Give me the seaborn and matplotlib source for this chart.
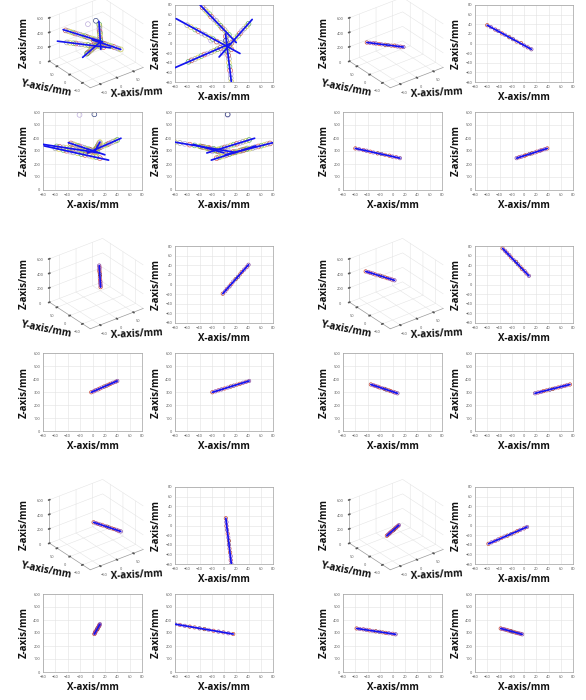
import numpy as np
import matplotlib
matplotlib.use("Agg")
import matplotlib.pyplot as plt
import seaborn as sns
from mpl_toolkits.mplot3d import Axes3D  # noqa

# ---------------- data (mm) ----------------
# trajectory B
b_x = [-60, -54, -47, -42, -36, -31, -24, -18, -12, -5, 0, 6, 12]
b_y = [38, 34, 29, 26, 21, 18, 13, 9, 4, 1, -4, -8, -12]
b_z = [320, 314, 307, 302, 295, 289, 282, 277, 270, 264, 257, 252, 245]
b_fit_x = [-60, 12]
b_fit_y = [38, -12]
b_fit_z = [320, 245]
# trajectory C
c_x = [-2, 2, 5, 9, 12, 15, 19, 23, 26, 29, 33, 37, 40]
c_y = [-19, -14, -9, -4, 1, 6, 11, 16, 21, 26, 31, 36, 41]
c_z = [298, 305, 313, 320, 327, 334, 342, 349, 356, 363, 371, 378, 385]
c_fit_x = [-2, 40]
c_fit_y = [-19, 41]
c_fit_z = [298, 385]
# trajectory D
d_x = [-35, -31, -28, -24, -21, -17, -13, -10, -6, -3, 1, 4, 8]
d_y = [75, 70, 66, 61, 56, 51, 47, 42, 37, 32, 28, 23, 18]
d_z = [358, 352, 347, 341, 335, 330, 324, 318, 313, 307, 301, 296, 290]
d_fit_x = [-35, 8]
d_fit_y = [75, 18]
d_fit_z = [358, 290]
# trajectory E
e_x = [3, 4, 4, 5, 6, 7, 8, 8, 9, 10, 11, 11, 12]
e_y = [15, 7, -1, -9, -17, -25, -32, -40, -48, -56, -64, -72, -80]
e_z = [292, 298, 305, 311, 317, 324, 330, 336, 343, 349, 355, 362, 368]
e_fit_x = [3, 12]
e_fit_y = [15, -80]
e_fit_z = [292, 368]
# trajectory F
f_x = [-58, -53, -47, -42, -37, -32, -27, -21, -16, -11, -6, 0, 5]
f_y = [-38, -35, -32, -29, -26, -23, -21, -18, -15, -12, -9, -6, -3]
f_z = [335, 331, 328, 324, 320, 316, 313, 309, 305, 301, 298, 294, 290]
f_fit_x = [-58, 5]
f_fit_y = [-38, -3]
f_fit_z = [335, 290]
# panel A: all trajectories, longer fitted lines, plus two outliers
a_fit_x = [[-78, 26], [-8, 46], [-39, 20], [2.5, 12], [-80, 10]]
a_fit_y = [[51.5, -20.7], [-28, 50], [80, 2], [20, -80], [-50.2, -0.2]]
a_fit_z = [[339, 230], [285, 398], [364, 271], [288, 368], [351, 286]]
a_out_x = [-21, 3]
a_out_y = [6, 6]
a_out_z = [578, 582]

xy_ticks = [-80, -60, -40, -20, 0, 20, 40, 60, 80]
z_ticks = [0, 100, 200, 300, 400, 500, 600]
z3_ticks = [0, 200, 400, 600]
xy3_ticks = [-50, 0, 50]

# ---------------- style ----------------
sns.set_theme(style="whitegrid")
plt.rcParams["font.family"] = ["Open Sans", "DejaVu Sans"]

W, H = 586, 700
fig = plt.figure(figsize=(W / 100, H / 100), dpi=100)
fig.patch.set_facecolor("white")

LINE_C = "#1414f0"
small_cols = ["#c0392b", "#8e44ad", "#b03a6e", "#7d3c98", "#e74c3c",
              "#a569bd", "#922b21", "#6c3483", "#cd6155"]
big_cols = ["#a6a6a6", "#e3d44c", "#6abf69", "#d9534f", "#b39ddb",
            "#9e9e9e", "#c9c94f", "#58a45c", "#c0504d"]
outlier_cols = ["#b7a6d9", "#2a3a7a"]
LBL = dict(fontsize=7.0, fontweight="bold", color="#111111")


def rect(x0, y0, x1, y1):
    return [x0 / W, 1 - y1 / H, (x1 - x0) / W, (y1 - y0) / H]


def style2d(ax, ylim, yticks):
    ax.set_facecolor("white")
    ax.set_xlim(-80, 80)
    ax.set_ylim(*ylim)
    ax.set_xticks(xy_ticks)
    ax.set_yticks(yticks)
    ax.grid(True, color="#e2e2e2", linewidth=0.4)
    for s in ax.spines.values():
        s.set_color("#a0a0a0")
        s.set_linewidth(0.5)
    ax.tick_params(labelsize=2.8, colors="#555555", length=1, width=0.3, pad=1)
    ax.set_xlabel("X-axis/mm", labelpad=2.5, **LBL)
    ax.set_ylabel("Z-axis/mm", labelpad=2.5, **LBL)


def draw2d(ax, px, py, cols, size, fits):
    sns.scatterplot(x=px, y=py, ax=ax, s=size, legend=False, zorder=2)
    coll = ax.collections[-1]
    coll.set_facecolor("none")
    coll.set_edgecolor(cols)
    coll.set_linewidth(0.45)
    for fx, fy in fits:
        sns.lineplot(x=fx, y=fy, ax=ax, sort=False, estimator=None,
                     color=LINE_C, linewidth=1.25, zorder=3)


def draw_group(gx, gy, px, py, pz, fits3, cols, size):
    # 3D view
    ax3 = fig.add_axes(rect(gx + 22, gy - 8, gx + 168, gy + 96), projection="3d")
    ax3.set_proj_type("ortho")
    ax3.view_init(elev=30, azim=-127.5)
    ax3.set_box_aspect((1, 1, 0.75), zoom=1.0)
    ax3.set_facecolor("none")
    for axis in (ax3.xaxis, ax3.yaxis, ax3.zaxis):
        axis.set_pane_color((1, 1, 1, 0))
        axis.pane.set_edgecolor("#cfcfcf")
        axis._axinfo["grid"].update(color="#e2e2e2", linewidth=0.35)
        axis.line.set_color("#9a9a9a")
        axis.line.set_linewidth(0.5)
    ax3.scatter(px, py, pz, s=size, facecolors="none", edgecolors=cols,
                linewidths=0.45, depthshade=False)
    for fx, fy, fz in fits3:
        ax3.plot(fx, fy, fz, color=LINE_C, linewidth=1.2)
    ax3.set_xlim(-80, 80)
    ax3.set_ylim(-80, 80)
    ax3.set_zlim(0, 600)
    ax3.set_xticks(xy3_ticks)
    ax3.set_yticks(xy3_ticks)
    ax3.set_zticks(z3_ticks)
    ax3.tick_params(labelsize=2.8, colors="#555555", pad=-4)
    ax3.set_xlabel("")
    ax3.set_ylabel("")
    ax3.set_zlabel("")
    fig.text((gx + 24) / W, 1 - (gy + 42) / H, "Z-axis/mm", rotation=90,
             ha="center", va="center", **LBL)
    fig.text((gx + 46) / W, 1 - (gy + 88) / H, "Y-axis/mm", rotation=-11,
             ha="center", va="center", **LBL)
    fig.text((gx + 137) / W, 1 - (gy + 93) / H, "X-axis/mm", rotation=3,
             ha="center", va="center", **LBL)

    # X-Y view
    ax1 = fig.add_axes(rect(gx + 175, gy + 5, gx + 273, gy + 82))
    draw2d(ax1, px, py, cols, size, [(f[0], f[1]) for f in fits3])
    style2d(ax1, (-80, 80), xy_ticks)
    # X-Z view
    ax2 = fig.add_axes(rect(gx + 43, gy + 112, gx + 142, gy + 190))
    draw2d(ax2, px, pz, cols, size, [(f[0], f[2]) for f in fits3])
    style2d(ax2, (0, 600), z_ticks)
    # Y-Z view
    ax4 = fig.add_axes(rect(gx + 175, gy + 112, gx + 273, gy + 190))
    draw2d(ax4, py, pz, cols, size, [(f[1], f[2]) for f in fits3])
    style2d(ax4, (0, 600), z_ticks)


def cycle(cols, n):
    return [cols[i % len(cols)] for i in range(n)]


# panel A: all data
main_x = b_x + c_x + d_x + e_x + f_x
all_x = main_x + a_out_x
all_y = b_y + c_y + d_y + e_y + f_y + a_out_y
all_z = b_z + c_z + d_z + e_z + f_z + a_out_z
a_cols = cycle(big_cols, len(main_x)) + outlier_cols
fits_a = list(zip(a_fit_x, a_fit_y, a_fit_z))
draw_group(0, 0, all_x, all_y, all_z, fits_a, a_cols, 12)

draw_group(300, 0, b_x, b_y, b_z, [(b_fit_x, b_fit_y, b_fit_z)],
           cycle(small_cols, len(b_x)), 6)
draw_group(0, 241, c_x, c_y, c_z, [(c_fit_x, c_fit_y, c_fit_z)],
           cycle(small_cols, len(c_x)), 6)
draw_group(300, 241, d_x, d_y, d_z, [(d_fit_x, d_fit_y, d_fit_z)],
           cycle(small_cols, len(d_x)), 6)
draw_group(0, 482, e_x, e_y, e_z, [(e_fit_x, e_fit_y, e_fit_z)],
           cycle(small_cols, len(e_x)), 6)
draw_group(300, 482, f_x, f_y, f_z, [(f_fit_x, f_fit_y, f_fit_z)],
           cycle(small_cols, len(f_x)), 6)

fig.savefig("out.png", dpi=100, facecolor="white")
